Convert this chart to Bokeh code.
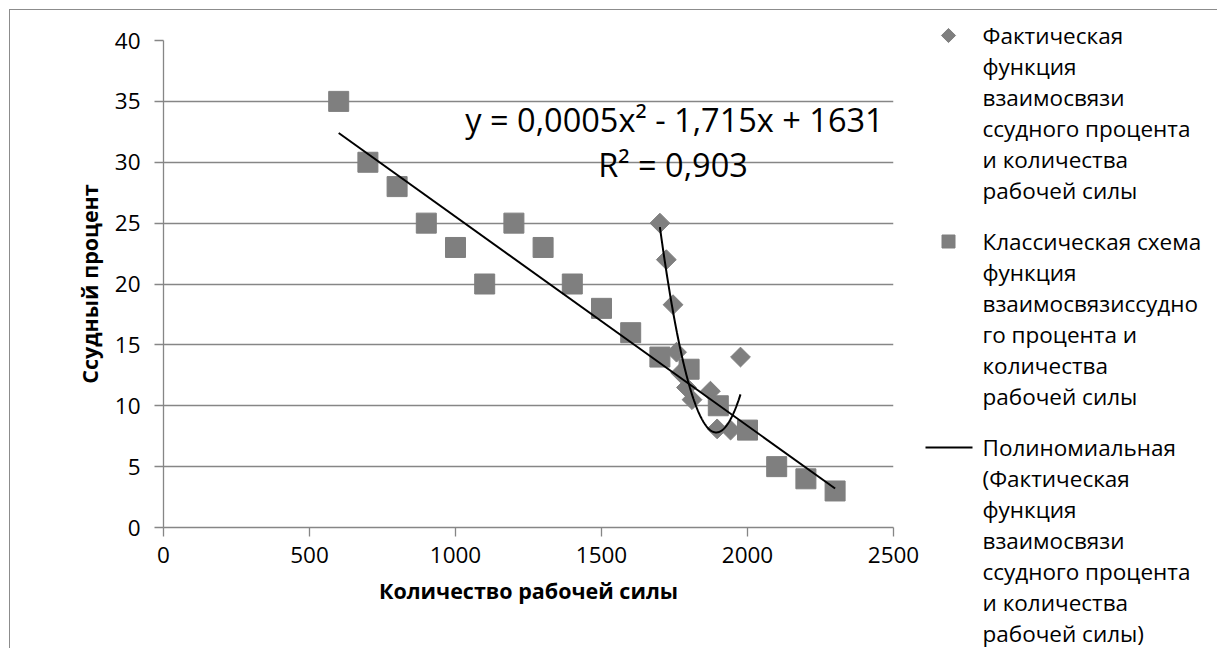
import numpy as np
from bokeh.plotting import figure
from bokeh.layouts import row
from bokeh.models import Range1d, Label, FixedTicker
from bokeh.core.properties import value
from bokeh.embed import file_html
from bokeh.resources import INLINE

# Фактическая функция: количество рабочей силы и ссудный процент
actual_labor = [1700, 1722, 1745, 1757, 1771, 1791, 1810, 1873, 1896, 1942, 1976]
actual_rate = [25.0, 22.0, 18.3, 14.4, 12.7, 11.5, 10.5, 11.2, 8.1, 8.0, 14.0]

# Классическая схема
classic_labor = [600, 700, 800, 900, 1000, 1100, 1200, 1300, 1400,
                 1500, 1600, 1700, 1800, 1900, 2000, 2100, 2200, 2300]
classic_rate = [35, 30, 28, 25, 23, 20, 25, 23, 20,
                18, 16, 14, 13, 10, 8, 5, 4, 3]

# Линейный тренд классической схемы (начало и конец)
linear_labor = [600, 2300]
linear_rate = [32.4, 3.2]

# Полиномиальный тренд: y = a*x^2 + b*x + c
poly_coef = [0.000453, -1.715, 1631]

x_ticks = [0, 500, 1000, 1500, 2000, 2500]
y_ticks = [0, 5, 10, 15, 20, 25, 30, 35, 40]

equation_text = "y = 0,0005x\u00b2 - 1,715x + 1631"
r2_text = "R\u00b2 = 0,903"

legend_labels = [
    "Фактическая\nфункция\nвзаимосвязи\nссудного процента\nи количества\nрабочей силы",
    "Классическая схема\nфункция\nвзаимосвязиссудно\nго процента и\nколичества\nрабочей силы",
    "Полиномиальная\n(Фактическая\nфункция\nвзаимосвязи\nссудного процента\nи количества\nрабочей силы)",
]

FONT = "Open Sans"
GRAY = "#868686"
MARK = "#7f7f7f"

poly_x = np.linspace(min(actual_labor), max(actual_labor), 200)
poly_y = np.polyval(poly_coef, poly_x)

# ---------- основной график ----------
p = figure(
    width=910, height=638,
    x_range=Range1d(0, 2500), y_range=Range1d(0, 40),
    output_backend="svg", toolbar_location=None,
    min_border_left=153, min_border_right=27,
    min_border_top=30, min_border_bottom=121,
    title_location=None,
)
p.frame_align = False
p.outline_line_color = None
p.background_fill_color = "white"
p.border_fill_color = "white"

p.scatter(actual_labor, actual_rate, marker="square", size=14,
          angle=np.pi / 4, fill_color=MARK, line_color=MARK)
p.scatter(classic_labor, classic_rate, marker="square", size=20,
          fill_color=MARK, line_color=MARK)
p.line(poly_x, poly_y, line_color="black", line_width=2)
p.line(linear_labor, linear_rate, line_color="black", line_width=2)

p.xaxis.ticker = FixedTicker(ticks=x_ticks)
p.yaxis.ticker = FixedTicker(ticks=y_ticks)
p.xaxis.axis_label = "Количество рабочей силы"
p.yaxis.axis_label = "Ссудный процент"
for ax in (p.xaxis, p.yaxis):
    ax.axis_line_color = GRAY
    ax.axis_line_width = 1.3
    ax.major_tick_line_color = GRAY
    ax.major_tick_line_width = 1.3
    ax.major_tick_out = 9
    ax.major_tick_in = 0
    ax.minor_tick_line_color = None
    ax.major_label_text_font = FONT
    ax.major_label_text_font_size = "22.5px"
    ax.major_label_text_color = "black"
    ax.axis_label_text_font = FONT
    ax.axis_label_text_font_size = "21.5px"
    ax.axis_label_text_font_style = "bold"
    ax.axis_label_text_color = "black"
p.xaxis.major_label_standoff = 10
p.xaxis.axis_label_standoff = 10
p.yaxis.major_label_standoff = 14
p.yaxis.axis_label_standoff = 8

p.xgrid.visible = False
p.ygrid.ticker = FixedTicker(ticks=y_ticks)
p.ygrid.grid_line_color = GRAY
p.ygrid.grid_line_width = 1.3

p.add_layout(Label(x=1750, y=33.5, text=equation_text, text_align="center",
                   text_baseline="middle", text_font=FONT,
                   text_font_size="32.5px", text_color="black"))
p.add_layout(Label(x=1745, y=29.8, text=r2_text, text_align="center",
                   text_baseline="middle", text_font=FONT,
                   text_font_size="32.5px", text_color="black"))

# ---------- легенда (пиксельные координаты панели, ось y вниз) ----------
LEG_W, LEG_H = 297, 638
q = figure(
    width=LEG_W, height=LEG_H,
    x_range=Range1d(0, LEG_W), y_range=Range1d(LEG_H, 0),
    output_backend="svg", toolbar_location=None,
    x_axis_type=None, y_axis_type=None,
    min_border=0, title_location=None,
)
q.frame_align = False
q.outline_line_color = None
q.grid.visible = False
q.background_fill_color = "white"
q.border_fill_color = "white"

LINE_PITCH = 31
ENTRY_GAP = 20
FIRST_Y = 25
ICON_X = 28
TEXT_X = 62

entry_y = []
text_x, text_y, text_lines = [], [], []
y = FIRST_Y
for label in legend_labels:
    entry_y.append(y)
    for k, line in enumerate(label.split("\n")):
        text_x.append(TEXT_X)
        text_y.append(y + k * LINE_PITCH)
        text_lines.append(line)
    y += len(label.split("\n")) * LINE_PITCH + ENTRY_GAP

q.scatter([ICON_X], [entry_y[0]], marker="square", size=10, angle=np.pi / 4,
          fill_color=MARK, line_color=MARK)
q.scatter([ICON_X], [entry_y[1]], marker="square", size=13,
          fill_color=MARK, line_color=MARK)
q.segment(x0=[ICON_X - 23], y0=[entry_y[2]], x1=[ICON_X + 24], y1=[entry_y[2]],
          line_color="black", line_width=2)
q.text(x=text_x, y=text_y, text=text_lines, text_font=value(FONT),
       text_font_size="22.5px", text_baseline="middle", text_align="left",
       text_color="black")

layout = row(p, q, styles={"margin-left": "9px", "margin-top": "9px",
                           "border-left": "1px solid #8c8c8c",
                           "border-top": "1px solid #8c8c8c"})

open("out.html", "w").write(file_html(layout, INLINE))
